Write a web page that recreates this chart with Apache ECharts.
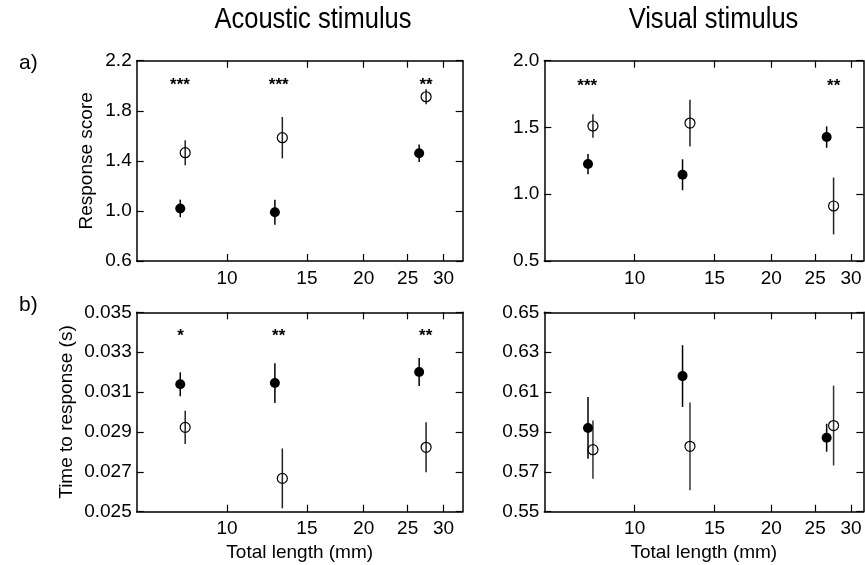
<!DOCTYPE html>
<html><head><meta charset="utf-8">
<script src="https://cdn.jsdelivr.net/npm/echarts@6/dist/echarts.min.js"></script>
<style>html,body{margin:0;padding:0;background:#fff}#c{width:865px;height:565px}</style>
</head><body><div id="c"></div>
<script>
// ---- data ----
const lengthFilled = [7.89, 12.75, 26.5];   // total length (mm), filled symbols
const lengthOpen   = [8.09, 13.24, 27.45];  // total length (mm), open symbols
const xTickValues  = [10, 15, 20, 25, 30];
const columnTitles = ['Acoustic stimulus', 'Visual stimulus'];
const rowLabels    = ['a)', 'b)'];

// a) Response score – acoustic stimulus
const acScoreFilled    = [1.02, 0.99, 1.46];
const acScoreFilledErr = [0.07, 0.10, 0.07];
const acScoreOpen      = [1.465, 1.585, 1.912];
const acScoreOpenErr   = [0.10, 0.165, 0.06];
const acScoreStarX     = [7.88, 13.0, 27.44];
const acScoreStarY     = [2.0, 2.0, 2.0];
const acScoreStars     = ['***', '***', '**'];
const acScoreTicks     = [0.6, 1.0, 1.4, 1.8, 2.2];

// a) Response score – visual stimulus
const viScoreFilled    = [1.226, 1.146, 1.428];
const viScoreFilledErr = [0.076, 0.116, 0.08];
const viScoreOpen      = [1.511, 1.533, 0.912];
const viScoreOpenErr   = [0.088, 0.175, 0.213];
const viScoreStarX     = [7.86, 27.47];
const viScoreStarY     = [1.81, 1.81];
const viScoreStars     = ['***', '**'];
const viScoreTicks     = [0.5, 1.0, 1.5, 2.0];

// b) Time to response – acoustic stimulus
const acTimeFilled    = [0.03139, 0.03145, 0.03201];
const acTimeFilledErr = [0.0006, 0.001, 0.0007];
const acTimeOpen      = [0.02923, 0.02667, 0.02823];
const acTimeOpenErr   = [0.00083, 0.0015, 0.00125];
const acTimeStarX     = [7.9, 13.0, 27.4];
const acTimeStarY     = [0.03382, 0.03382, 0.03382];
const acTimeStars     = ['*', '**', '**'];
const acTimeTicks     = [0.025, 0.027, 0.029, 0.031, 0.033, 0.035];

// b) Time to response – visual stimulus
const viTimeFilled    = [0.592, 0.618, 0.5871];
const viTimeFilledErr = [0.0155, 0.0155, 0.007];
const viTimeOpen      = [0.5811, 0.5828, 0.5932];
const viTimeOpenErr   = [0.0146, 0.022, 0.020];
const viTimeTicks     = [0.55, 0.57, 0.59, 0.61, 0.63, 0.65];

// ---- layout ----
const FONT = "'Liberation Sans', Arial, Helvetica, sans-serif";
const grids = [
  {left: 136.7, top: 60.7, width: 326, height: 200.3},
  {left: 544.3, top: 60.7, width: 319, height: 200.3},
  {left: 136.7, top: 312.3, width: 326, height: 199.4},
  {left: 544.3, top: 312.3, width: 319, height: 199.4}
];
const xRanges = [[6.326, 33.05], [6.32, 31.92], [6.326, 33.05], [6.32, 31.92]];
const panels = [
  {ticks: acScoreTicks, dec: 1, name: 'Response score', gap: 40},
  {ticks: viScoreTicks, dec: 1, name: '', gap: 40},
  {ticks: acTimeTicks, dec: 3, name: 'Time to response (s)', gap: 60},
  {ticks: viTimeTicks, dec: 2, name: '', gap: 40}
];

const xAxes = [], yAxes = [];
grids.forEach((g, i) => {
  const line = {show: true, lineStyle: {color: '#000', width: 1.5}};
  const tick = {show: true, inside: true, length: 7, customValues: xTickValues, lineStyle: {color: '#000', width: 1.2}};
  xAxes.push({
    type: 'log', logBase: 10, gridIndex: i, position: 'bottom',
    min: xRanges[i][0], max: xRanges[i][1],
    axisLine: line, axisTick: tick, splitLine: {show: false}, minorTick: {show: false},
    axisLabel: {customValues: xTickValues, color: '#000', fontSize: 19, margin: 8, fontFamily: FONT},
    name: i >= 2 ? 'Total length (mm)' : '', nameLocation: 'middle', nameGap: 32,
    nameTextStyle: {color: '#000', fontSize: 19, fontFamily: FONT}
  });
  xAxes.push({
    type: 'log', logBase: 10, gridIndex: i, position: 'top',
    min: xRanges[i][0], max: xRanges[i][1],
    axisLine: line, axisTick: tick, splitLine: {show: false}, minorTick: {show: false},
    axisLabel: {show: false, customValues: xTickValues}
  });
  const p = panels[i];
  const ytick = {show: true, inside: true, length: 7, customValues: p.ticks, lineStyle: {color: '#000', width: 1.2}};
  yAxes.push({
    type: 'value', gridIndex: i, position: 'left',
    min: p.ticks[0], max: p.ticks[p.ticks.length - 1],
    axisLine: line, axisTick: ytick, splitLine: {show: false},
    axisLabel: {customValues: p.ticks, color: '#000', fontSize: 19, margin: 5, fontFamily: FONT,
      formatter: v => Number(v).toFixed(p.dec)},
    name: p.name, nameLocation: 'middle', nameGap: p.gap,
    nameTextStyle: {color: '#000', fontSize: 19, fontFamily: FONT}
  });
  yAxes.push({
    type: 'value', gridIndex: i, position: 'right',
    min: p.ticks[0], max: p.ticks[p.ticks.length - 1],
    axisLine: line, axisTick: ytick, splitLine: {show: false},
    axisLabel: {show: false, customValues: p.ticks}
  });
});

function errSeries(i, xs, ys, errs, color) {
  return {
    type: 'custom', xAxisIndex: i * 2, yAxisIndex: i * 2, silent: true, z: 2,
    data: xs.map((x, k) => [x, ys[k] - errs[k], ys[k] + errs[k]]),
    encode: {x: 0, y: [1, 2]},
    renderItem: (params, api) => {
      const a = api.coord([api.value(0), api.value(1)]);
      const b = api.coord([api.value(0), api.value(2)]);
      return {type: 'line', shape: {x1: a[0], y1: a[1], x2: b[0], y2: b[1]},
        style: {stroke: color, lineWidth: 1.5}};
    }
  };
}
function pointSeries(i, xs, ys, filled) {
  return {
    type: 'scatter', xAxisIndex: i * 2, yAxisIndex: i * 2, silent: true, z: 3,
    symbol: 'circle', symbolSize: 10,
    data: xs.map((x, k) => [x, ys[k]]),
    itemStyle: filled ? {color: '#000', borderColor: '#000', borderWidth: 0, opacity: 1}
                      : {color: 'rgba(255,255,255,0)', borderColor: '#000', borderWidth: 1.2, opacity: 1}
  };
}
function starSeries(i, xs, ys, texts) {
  return {
    type: 'custom', xAxisIndex: i * 2, yAxisIndex: i * 2, silent: true, z: 4,
    data: xs.map((x, k) => [x, ys[k], k]),
    renderItem: (params, api) => {
      const c = api.coord([api.value(0), api.value(1)]);
      return {type: 'text', x: c[0], y: c[1],
        style: {text: texts[api.value(2)], align: 'center', verticalAlign: 'middle',
          font: 'bold 17px ' + FONT, fill: '#000'}};
    }
  };
}

const series = [
  errSeries(0, lengthFilled, acScoreFilled, acScoreFilledErr, '#000'),
  errSeries(0, lengthOpen, acScoreOpen, acScoreOpenErr, '#222'),
  pointSeries(0, lengthFilled, acScoreFilled, true),
  pointSeries(0, lengthOpen, acScoreOpen, false),
  starSeries(0, acScoreStarX, acScoreStarY, acScoreStars),

  errSeries(1, lengthFilled, viScoreFilled, viScoreFilledErr, '#000'),
  errSeries(1, lengthOpen, viScoreOpen, viScoreOpenErr, '#222'),
  pointSeries(1, lengthFilled, viScoreFilled, true),
  pointSeries(1, lengthOpen, viScoreOpen, false),
  starSeries(1, viScoreStarX, viScoreStarY, viScoreStars),

  errSeries(2, lengthFilled, acTimeFilled, acTimeFilledErr, '#000'),
  errSeries(2, lengthOpen, acTimeOpen, acTimeOpenErr, '#222'),
  pointSeries(2, lengthFilled, acTimeFilled, true),
  pointSeries(2, lengthOpen, acTimeOpen, false),
  starSeries(2, acTimeStarX, acTimeStarY, acTimeStars),

  errSeries(3, lengthFilled, viTimeFilled, viTimeFilledErr, '#000'),
  errSeries(3, lengthOpen, viTimeOpen, viTimeOpenErr, '#333'),
  pointSeries(3, lengthFilled, viTimeFilled, true),
  pointSeries(3, lengthOpen, viTimeOpen, false)
];

const titleCenters = [313, 713.5];
const graphics = columnTitles.map((t, k) => ({
  type: 'text', x: titleCenters[k], y: 20, scaleX: 0.88, silent: true,
  style: {text: t, font: '29px ' + FONT, fill: '#000', align: 'center', verticalAlign: 'middle'}
}));

const chart = echarts.init(document.getElementById('c'), null, {renderer: 'canvas'});
chart.setOption({
  animation: false,
  backgroundColor: '#fff',
  title: [
    {text: rowLabels[0], left: 14, top: 48, textStyle: {fontSize: 21, fontWeight: 'normal', color: '#000', fontFamily: FONT}},
    {text: rowLabels[1], left: 14, top: 290, textStyle: {fontSize: 21, fontWeight: 'normal', color: '#000', fontFamily: FONT}}
  ],
  graphic: graphics,
  grid: grids,
  xAxis: xAxes,
  yAxis: yAxes,
  series: series
});
</script>
</body></html>
